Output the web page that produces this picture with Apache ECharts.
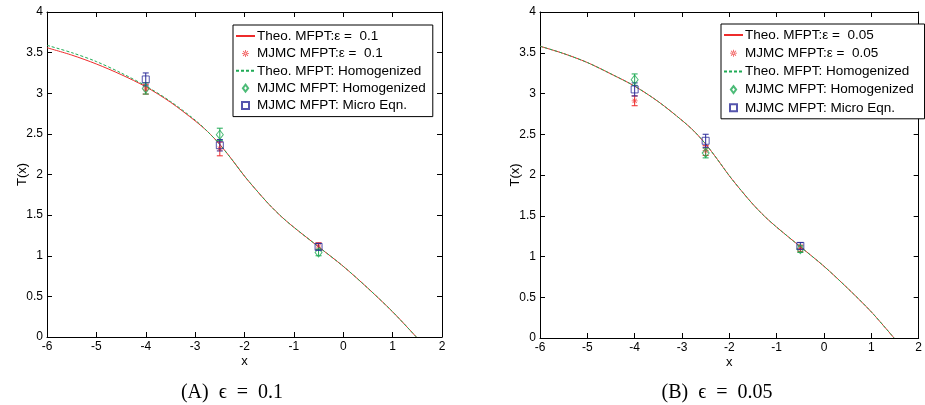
<!DOCTYPE html>
<html><head><meta charset="utf-8">
<script src="https://cdn.jsdelivr.net/npm/echarts@6/dist/echarts.min.js"></script>
<style>html,body{margin:0;padding:0;background:#fff}#c{width:925px;height:405px}</style>
</head><body><div id="c"></div>
<script>
// ---- data ----
const curveX  = [-6,-5.5,-5,-4.5,-4,-3.5,-3,-2.75,-2.5,-2.25,-2,-1.75,-1.5,-1.25,-1,-0.5,0,0.5,1,1.48];
// panel A (eps = 0.1)
const theoA   = [3.56,3.47,3.36,3.23,3.08,2.89,2.66,2.53,2.37,2.18,1.98,1.80,1.63,1.48,1.35,1.11,0.87,0.60,0.31,0];
const homA    = [3.59,3.50,3.39,3.25,3.09,2.90,2.67,2.53,2.37,2.18,1.98,1.80,1.63,1.48,1.35,1.11,0.87,0.60,0.31,0];
// panel B (eps = 0.05)
const theoB   = [3.58,3.49,3.38,3.24,3.09,2.90,2.67,2.54,2.38,2.19,1.99,1.81,1.64,1.49,1.36,1.12,0.88,0.61,0.32,0];
const homB    = [3.58,3.49,3.38,3.24,3.09,2.90,2.67,2.54,2.38,2.19,1.99,1.81,1.64,1.49,1.36,1.12,0.88,0.61,0.32,0];
// Monte Carlo points: [x, value, low, high]
const mjmcEpsA  = [[-4,3.05,2.99,3.11],[-2.5,2.32,2.23,2.40],[-0.5,1.12,1.08,1.16]];
const mjmcHomA  = [[-4,3.06,2.99,3.13],[-2.5,2.49,2.42,2.57],[-0.5,1.04,1.00,1.08]];
const mjmcMicA  = [[-4,3.17,3.09,3.25],[-2.5,2.36,2.29,2.43],[-0.5,1.11,1.07,1.15]];
const mjmcEpsB  = [[-4,2.91,2.85,2.97],[-2.5,2.30,2.24,2.36],[-0.5,1.10,1.06,1.14]];
const mjmcHomB  = [[-4,3.17,3.10,3.24],[-2.5,2.27,2.21,2.33],[-0.5,1.09,1.05,1.13]];
const mjmcMicB  = [[-4,3.05,2.97,3.13],[-2.5,2.42,2.34,2.50],[-0.5,1.13,1.09,1.17]];
const namesA = ['Theo. MFPT:\u03b5 =  0.1','MJMC MFPT:\u03b5 =  0.1','Theo. MFPT: Homogenized','MJMC MFPT: Homogenized','MJMC MFPT: Micro Eqn.'];
const namesB = ['Theo. MFPT:\u03b5 =  0.05','MJMC MFPT:\u03b5 =  0.05','Theo. MFPT: Homogenized ','MJMC MFPT: Homogenized ','MJMC MFPT: Micro Eqn. '];
const captions = ['(A)  \u03f5  =  0.1','(B)  \u03f5  =  0.05'];

// ---- styling ----
const RED = '#ee2b2b', GREEN = '#1faa55', BLUE = '#2b2b99';
const STAR = 'path://M-0.12,-1 L0.12,-1 L0.12,1 L-0.12,1 Z M-1,-0.12 L1,-0.12 L1,0.12 L-1,0.12 Z M-0.79,-0.62 L0.62,0.79 L0.79,0.62 L-0.62,-0.79 Z M0.62,-0.79 L-0.79,0.62 L-0.62,0.79 L0.79,-0.62 Z';
const DIAM = 'path://M0,-1 L0.75,0 L0,1 L-0.75,0 Z';
const SQR = 'path://M-1,-1 L1,-1 L1,1 L-1,1 Z';
const FONT = 'Liberation Sans';

const chart = echarts.init(document.getElementById('c'), null, {renderer:'canvas'});

function xAxes(gi){
  const base = {gridIndex:gi, type:'value', min:-6, max:2, interval:1,
    axisLine:{onZero:false, lineStyle:{color:'#000',width:1}}, axisTick:{inside:true,length:5,lineStyle:{color:'#000'}},
    splitLine:{show:false}};
  return [
    Object.assign({}, base, {position:'bottom', name:'x', nameLocation:'middle', nameGap:18, nameMoveOverlap:false,
      nameTextStyle:{color:'#000',fontSize:13,fontFamily:FONT},
      axisLabel:{color:'#000',fontSize:12,fontFamily:FONT,margin:4}}),
    Object.assign({}, base, {position:'top', axisLabel:{show:false}})
  ];
}
function yAxes(gi){
  const base = {gridIndex:gi, type:'value', min:0, max:4, interval:0.5,
    axisLine:{onZero:false, lineStyle:{color:'#000',width:1}}, axisTick:{inside:true,length:5,lineStyle:{color:'#000'}},
    splitLine:{show:false}};
  return [
    Object.assign({}, base, {position:'left', name:'T(x)', nameLocation:'middle', nameGap:18, nameMoveOverlap:false,
      nameTextStyle:{color:'#000',fontSize:13,fontFamily:FONT},
      axisLabel:{color:'#000',fontSize:12,fontFamily:FONT,margin:4}}),
    Object.assign({}, base, {position:'right', axisLabel:{show:false}})
  ];
}
function errRender(color){
  return function(params, api){
    const x = api.value(0), lo = api.value(2), hi = api.value(3);
    const a = api.coord([x, lo]), b = api.coord([x, hi]);
    const w = 3;
    const st = {stroke:color, lineWidth:1};
    return {type:'group', children:[
      {type:'line', shape:{x1:a[0],y1:a[1],x2:b[0],y2:b[1]}, style:st},
      {type:'line', shape:{x1:a[0]-w,y1:a[1],x2:a[0]+w,y2:a[1]}, style:st},
      {type:'line', shape:{x1:b[0]-w,y1:b[1],x2:b[0]+w,y2:b[1]}, style:st}
    ]};
  };
}
function panelSeries(gi, names, theo, hom, eps, homPts, mic){
  const ax = {xAxisIndex:gi*2, yAxisIndex:gi*2};
  const zip = ys => curveX.map((x,i)=>[x, ys[i]]);
  const errS = (d,c) => Object.assign({type:'custom', renderItem:errRender(c), data:d, encode:{x:0,y:[2,3]}, silent:true, z:3}, ax);
  return [
    Object.assign({name:names[0], type:'line', data:zip(theo), symbol:'none', smooth:0.3,
      lineStyle:{color:RED,width:1}, itemStyle:{color:RED}, z:2}, ax),
    Object.assign({name:names[2], type:'line', data:zip(hom), symbol:'none', smooth:0.3,
      lineStyle:{color:GREEN,width:1,type:[3,2]}, itemStyle:{color:GREEN}, z:2}, ax),
    errS(eps, RED), errS(homPts, GREEN), errS(mic, BLUE),
    Object.assign({name:names[1], type:'scatter', data:eps.map(p=>[p[0],p[1]]), symbol:STAR, symbolSize:6,
      itemStyle:{color:RED}, z:5}, ax),
    Object.assign({name:names[3], type:'scatter', data:homPts.map(p=>[p[0],p[1]]), symbol:DIAM, symbolSize:[7,9],
      itemStyle:{color:'rgba(255,255,255,0)', borderColor:GREEN, borderWidth:1}, z:5}, ax),
    Object.assign({name:names[4], type:'scatter', data:mic.map(p=>[p[0],p[1]]), symbol:SQR, symbolSize:7,
      itemStyle:{color:'rgba(255,255,255,0)', borderColor:BLUE, borderWidth:1}, z:5}, ax)
  ];
}
function legend(names, left, top, gap){
  const hide = {opacity:0};
  return {orient:'vertical', left:left, top:top, itemWidth:19, itemHeight:7, itemGap:gap,
    backgroundColor:'#fff', borderColor:'#000', borderWidth:1, padding:[4,7,4,2],
    selectedMode:false, symbolKeepAspect:true,
    textStyle:{color:'#000', fontSize:13.5, fontFamily:FONT, lineHeight:14, padding:[0,0,0,-3]},
    data:[
      {name:names[0], itemStyle:hide},
      {name:names[1], icon:STAR},
      {name:names[2], itemStyle:hide},
      {name:names[3], icon:DIAM},
      {name:names[4], icon:SQR}
    ]};
}

chart.setOption({
  animation:false,
  backgroundColor:'#fff',
  grid:[{left:47, top:12, width:395, height:325},{left:540, top:12, width:386.4, height:326}],
  xAxis:[...xAxes(0), ...xAxes(1)],
  yAxis:[...yAxes(0), ...yAxes(1)],
  legend:[legend(namesA, 233, 25, 3.4), legend(namesB, 721, 24, 4.2)],
  series:[...panelSeries(0, namesA, theoA, homA, mjmcEpsA, mjmcHomA, mjmcMicA),
          ...panelSeries(1, namesB, theoB, homB, mjmcEpsB, mjmcHomB, mjmcMicB)],
  graphic:[
    {type:'text', x:232, y:393, style:{text:captions[0], font:'20px "Liberation Serif"', textAlign:'center', textVerticalAlign:'middle', fill:'#000'}},
    {type:'text', x:717, y:393, style:{text:captions[1], font:'20px "Liberation Serif"', textAlign:'center', textVerticalAlign:'middle', fill:'#000'}}
  ]
});
</script></body></html>
